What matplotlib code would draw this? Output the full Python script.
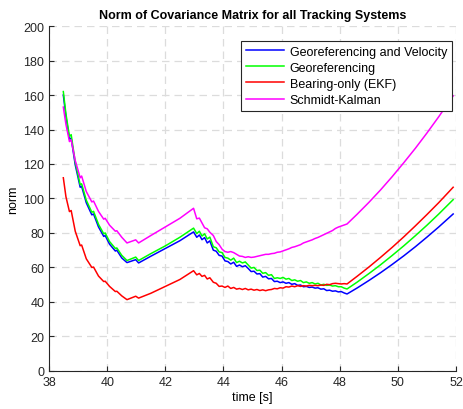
import matplotlib
matplotlib.use("Agg")
import matplotlib.pyplot as plt

# time stamps [s]: filter start-up, gap without fixes, dense fix phase, coasting
time_s = [
    38.49, 38.58, 38.70, 38.76, 38.90, 39.07, 39.12, 39.28, 39.47, 39.53,
    39.70, 39.88, 39.93, 40.08, 40.28, 40.33, 40.50, 40.68, 40.98, 41.08,
    41.50, 42.00, 42.50, 42.97,
    43.08, 43.17, 43.26, 43.35, 43.44, 43.53, 43.65, 43.75, 43.85, 43.95,
    44.05, 44.15, 44.25, 44.35, 44.45, 44.55, 44.65, 44.75, 44.85, 44.95,
    45.05, 45.15, 45.25, 45.35, 45.45, 45.55, 45.65, 45.75, 45.85, 45.95,
    46.05, 46.15, 46.25, 46.35, 46.45, 46.55, 46.65, 46.75, 46.85, 46.95,
    47.05, 47.15, 47.25, 47.35, 47.45, 47.55, 47.65, 47.75, 47.85, 47.95,
    48.05, 48.15, 48.25,
    48.60, 49.00, 49.40, 49.80, 50.20, 50.60, 51.00, 51.40, 51.90,
]

geo_vel = [
    160.0, 147.5, 134.5, 135.0, 119.5, 106.5, 107.0, 97.5, 90.5, 91.0,
    83.5, 78.0, 78.5, 73.5, 69.5, 70.0, 65.5, 62.8, 64.5, 62.6,
    66.5, 71.0, 75.5, 80.6,
    77.5, 78.8, 76.1, 77.3, 74.2, 75.4, 70.0, 69.4, 67.0, 66.6,
    63.8, 63.4, 62.0, 63.0, 60.6, 61.4, 60.4, 61.0, 59.4, 57.6,
    57.8, 56.2, 56.4, 54.4, 54.8, 53.4, 53.6, 51.8, 52.0, 51.2,
    51.6, 50.8, 51.2, 50.2, 50.6, 49.6, 49.8, 48.8, 49.0, 48.4,
    48.6, 48.0, 48.2, 47.4, 47.6, 46.6, 46.8, 46.2, 46.4, 45.8,
    46.0, 45.2, 44.6,
    48.1, 52.4, 56.9, 61.7, 66.7, 72.0, 77.6, 83.4, 91.0,
]

geo = [
    162.0, 149.0, 136.0, 137.0, 121.0, 108.0, 108.5, 99.0, 92.0, 92.5,
    85.0, 79.5, 80.0, 75.0, 71.0, 71.3, 67.0, 64.0, 66.0, 64.0,
    68.0, 72.5, 77.5, 82.8,
    79.6, 81.0, 78.2, 79.5, 76.5, 77.6, 72.0, 71.4, 69.0, 68.6,
    65.8, 65.4, 64.2, 65.4, 62.8, 63.6, 62.6, 63.2, 61.4, 59.6,
    60.0, 58.2, 58.4, 56.6, 57.0, 55.4, 55.8, 53.6, 54.0, 53.6,
    54.2, 53.2, 53.6, 52.4, 52.8, 52.0, 52.4, 51.2, 51.6, 50.8,
    51.2, 50.4, 50.8, 49.8, 50.2, 49.6, 49.8, 49.2, 49.4, 48.8,
    48.8, 48.0, 47.5,
    51.5, 56.4, 61.5, 66.9, 72.5, 78.4, 84.5, 90.9, 99.3,
]

bearing_ekf = [
    112.0, 101.0, 92.4, 93.0, 81.0, 72.6, 73.0, 65.0, 60.0, 60.2,
    55.0, 51.8, 52.0, 49.0, 46.0, 46.2, 43.5, 41.3, 43.3, 42.2,
    45.0, 49.0, 53.0, 58.1,
    55.7, 56.5, 54.8, 55.4, 53.3, 54.0, 51.4, 50.8, 49.0, 49.2,
    48.4, 49.2, 47.8, 48.4, 47.4, 47.8, 47.2, 47.8, 47.0, 47.4,
    46.8, 47.2, 46.6, 47.0, 46.5, 47.0, 47.2, 47.8, 47.6, 48.2,
    48.0, 48.8, 48.6, 49.2, 48.8, 49.4, 49.0, 49.4, 49.2, 49.6,
    49.4, 49.6, 49.4, 49.8, 49.6, 50.2, 50.0, 50.6, 50.8, 50.6,
    50.4, 50.6, 50.4,
    54.9, 60.2, 65.8, 71.6, 77.7, 84.1, 90.7, 97.5, 106.5,
]

schmidt_kalman = [
    153.0, 143.0, 133.0, 134.0, 122.0, 112.0, 113.0, 104.0, 98.0, 98.5,
    92.5, 88.0, 88.5, 84.5, 81.0, 81.3, 77.5, 74.2, 76.0, 74.2,
    78.5, 83.5, 88.5, 94.3,
    88.2, 88.6, 85.8, 83.0, 82.4, 80.4, 78.5, 75.0, 73.2, 70.6,
    69.2, 68.8, 69.2, 68.6, 67.6, 66.6, 66.4, 65.8, 66.2, 65.8,
    66.0, 66.4, 66.8, 67.2, 67.6, 67.6, 68.0, 68.2, 68.8, 69.0,
    69.6, 70.2, 70.8, 71.6, 72.0, 72.6, 73.2, 74.2, 74.8, 75.4,
    76.0, 76.8, 77.4, 78.2, 79.0, 79.8, 80.6, 81.4, 82.6, 83.4,
    84.0, 84.6, 85.2,
    90.9, 97.7, 104.9, 112.6, 120.7, 129.1, 138.0, 147.3, 159.5,
]

series = [
    ("Georeferencing and Velocity", geo_vel, "#0000ff"),
    ("Georeferencing", geo, "#00ff00"),
    ("Bearing-only (EKF)", bearing_ekf, "#ff0000"),
    ("Schmidt-Kalman", schmidt_kalman, "#ff00ff"),
]

plt.rcParams["font.family"] = ["Liberation Sans", "DejaVu Sans"]

fig = plt.figure(figsize=(4.63, 4.10), dpi=100)
ax = fig.add_axes([0.106, 0.093, 0.879, 0.841])

for label, values, color in series:
    ax.plot(time_s, values, color=color, lw=1.1, label=label)

ax.set_xlim(38, 52)
ax.set_ylim(0, 200)
ax.set_xticks(range(38, 53, 2))
ax.set_yticks(range(0, 201, 20))
ax.grid(True, color="#dcdcdc", lw=0.9, linestyle=(0, (6, 4)))
ax.set_axisbelow(True)
for side in ("top", "right"):
    ax.spines[side].set_visible(False)
for side in ("left", "bottom"):
    ax.spines[side].set_color("#262626")
    ax.spines[side].set_linewidth(0.8)
ax.tick_params(direction="in", length=3.5, width=0.8, colors="#262626",
               labelsize=9, labelcolor="#262626")

ax.set_title("Norm of Covariance Matrix for all Tracking Systems",
             fontsize=9, fontweight="bold", pad=6)
ax.set_xlabel("time [s]", fontsize=9, labelpad=2)
ax.set_ylabel("norm", fontsize=9, labelpad=3)

leg = ax.legend(loc="upper right", bbox_to_anchor=(0.99, 0.958), fontsize=9,
                fancybox=False, framealpha=1, edgecolor="#262626",
                handlelength=3.0, handletextpad=0.45, labelspacing=0.33,
                borderpad=0.4, borderaxespad=0)
leg.get_frame().set_linewidth(0.8)

fig.savefig("out.png", dpi=100, facecolor="white")
